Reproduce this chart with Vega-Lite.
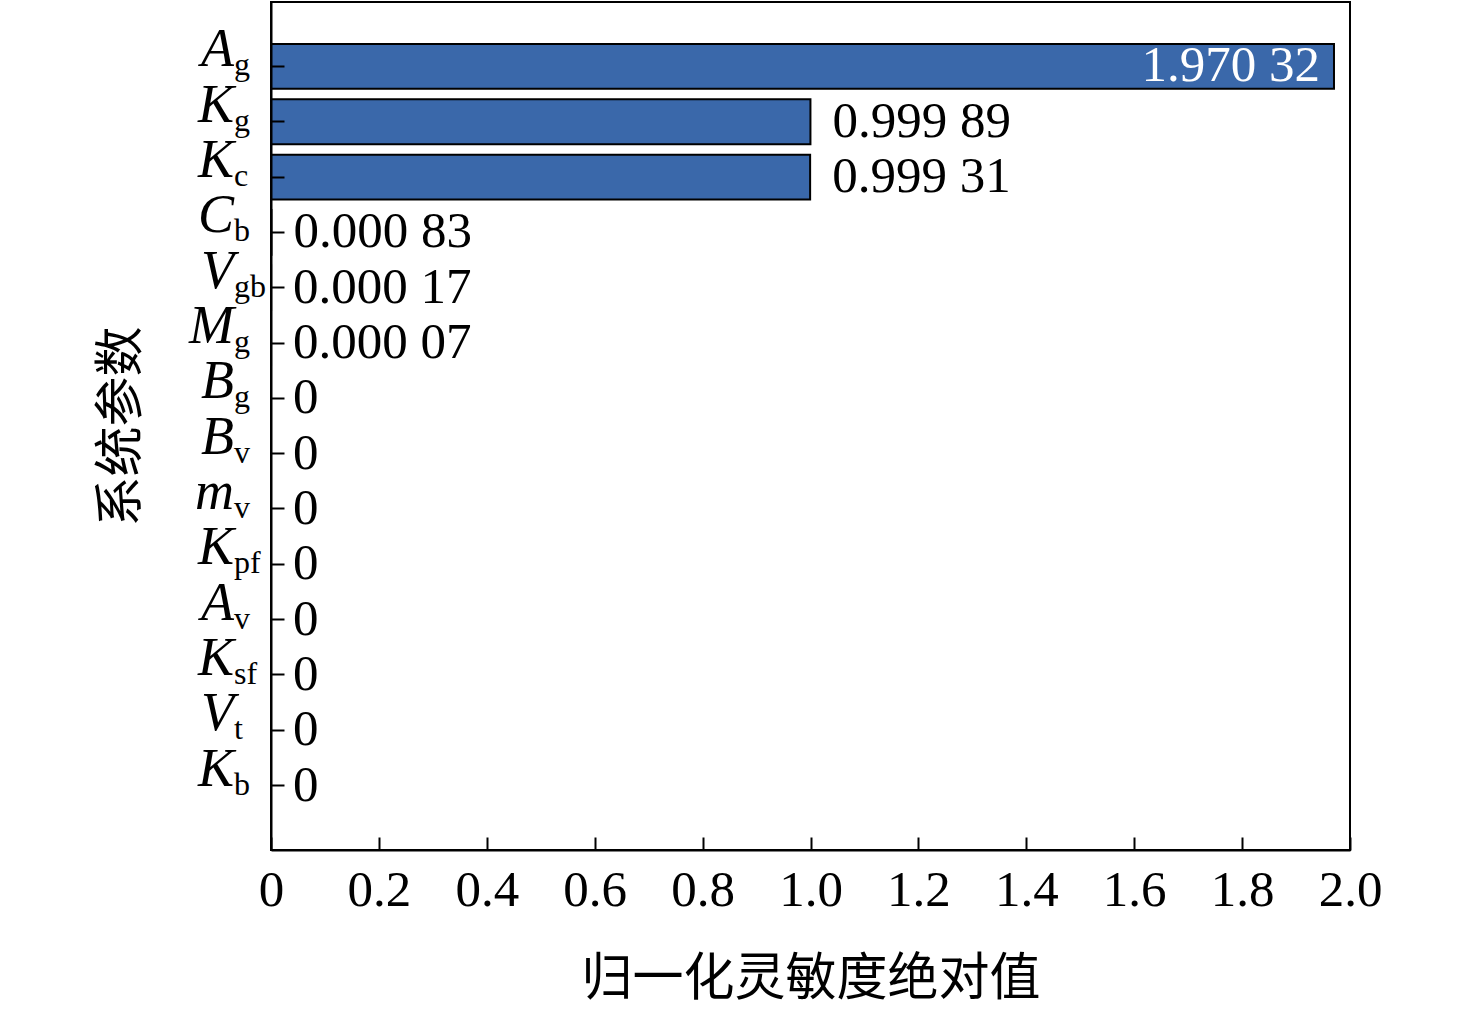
{
  "$schema": "https://vega.github.io/schema/vega-lite/v6.json",
  "autosize": "none",
  "width": 1079,
  "height": 848,
  "padding": {"left": 271, "top": 2, "right": 126, "bottom": 160},
  "background": "white",
  "config": {
    "view": {"stroke": "black", "strokeWidth": 2},
    "font": "Liberation Serif"
  },
  "data": {
    "values": [
      {"param": "Ag", "sym": "A", "sub": "g", "value": 1.97032, "label": "1.970 32"},
      {"param": "Kg", "sym": "K", "sub": "g", "value": 0.99989, "label": "0.999 89"},
      {"param": "Kc", "sym": "K", "sub": "c", "value": 0.99931, "label": "0.999 31"},
      {"param": "Cb", "sym": "C", "sub": "b", "value": 0.00083, "label": "0.000 83"},
      {"param": "Vgb", "sym": "V", "sub": "gb", "value": 0.00017, "label": "0.000 17"},
      {"param": "Mg", "sym": "M", "sub": "g", "value": 0.00007, "label": "0.000 07"},
      {"param": "Bg", "sym": "B", "sub": "g", "value": 0, "label": "0"},
      {"param": "Bv", "sym": "B", "sub": "v", "value": 0, "label": "0"},
      {"param": "mv", "sym": "m", "sub": "v", "value": 0, "label": "0"},
      {"param": "Kpf", "sym": "K", "sub": "pf", "value": 0, "label": "0"},
      {"param": "Av", "sym": "A", "sub": "v", "value": 0, "label": "0"},
      {"param": "Ksf", "sym": "K", "sub": "sf", "value": 0, "label": "0"},
      {"param": "Vt", "sym": "V", "sub": "t", "value": 0, "label": "0"},
      {"param": "Kb", "sym": "K", "sub": "b", "value": 0, "label": "0"}
    ]
  },
  "encoding": {
    "y": {
      "field": "param",
      "type": "nominal",
      "sort": null,
      "scale": {"paddingInner": 0.19, "paddingOuter": 0.76},
      "axis": {
        "title": "系统参数",
        "titleFont": "Noto Sans CJK SC",
        "titleFontSize": 50,
        "titleFontWeight": "normal",
        "titleColor": "black",
        "titlePadding": 124,
        "labels": false,
        "domainColor": "black",
        "domainWidth": 2,
        "tickColor": "black",
        "tickWidth": 2,
        "tickSize": -13,
        "zindex": 1
      }
    }
  },
  "layer": [
    {
      "mark": {"type": "bar", "color": "#3a68aa", "stroke": "black", "strokeWidth": 2},
      "encoding": {
        "x": {
          "field": "value",
          "type": "quantitative",
          "scale": {"domain": [0, 2], "nice": false},
          "axis": {
            "title": "归一化灵敏度绝对值",
            "titleFont": "Noto Sans CJK SC",
            "titleFontSize": 51,
            "titleFontWeight": "normal",
            "titleColor": "black",
            "titlePadding": 39,
            "values": [0, 0.2, 0.4, 0.6, 0.8, 1.0, 1.2, 1.4, 1.6, 1.8, 2.0],
            "labelExpr": "datum.value === 0 ? '0' : format(datum.value, '.1f')",
            "labelFont": "Liberation Serif",
            "labelFontSize": 51,
            "labelColor": "black",
            "labelPadding": 28,
            "labelFlush": false,
            "labelOverlap": false,
            "grid": false,
            "domainColor": "black",
            "domainWidth": 2,
            "tickColor": "black",
            "tickWidth": 2,
            "tickSize": -13,
            "zindex": 1
          }
        }
      }
    },
    {
      "transform": [{"filter": "datum.value > 1.5"}],
      "mark": {"type": "text", "align": "right", "baseline": "middle", "dx": -14, "fontSize": 51, "font": "Liberation Serif", "color": "white"},
      "encoding": {
        "x": {"field": "value", "type": "quantitative"},
        "text": {"field": "label"}
      }
    },
    {
      "transform": [{"filter": "datum.value <= 1.5"}],
      "mark": {"type": "text", "align": "left", "baseline": "middle", "dx": 22, "fontSize": 51, "font": "Liberation Serif", "color": "black"},
      "encoding": {
        "x": {"field": "value", "type": "quantitative"},
        "text": {"field": "label"}
      }
    },
    {
      "mark": {"type": "text", "align": "right", "baseline": "alphabetic", "dx": -37, "dy": 0, "fontSize": 54, "font": "Liberation Serif", "fontStyle": "italic", "color": "black"},
      "encoding": {
        "x": {"datum": 0, "type": "quantitative"},
        "text": {"field": "sym"}
      }
    },
    {
      "mark": {"type": "text", "align": "left", "baseline": "alphabetic", "dx": -37, "dy": 9, "fontSize": 32, "font": "Liberation Serif", "color": "black"},
      "encoding": {
        "x": {"datum": 0, "type": "quantitative"},
        "text": {"field": "sub"}
      }
    }
  ]
}
